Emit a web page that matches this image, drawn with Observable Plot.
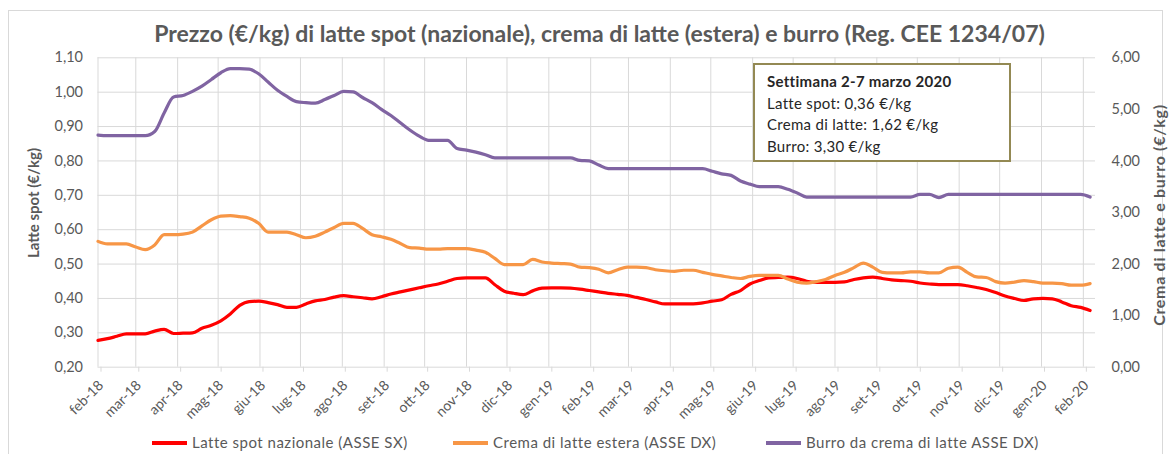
<!DOCTYPE html>
<html><head><meta charset="utf-8">
<script src="https://cdn.jsdelivr.net/npm/d3@7"></script>
<script src="https://cdn.jsdelivr.net/npm/@observablehq/plot@0.6"></script>
<style>
body{margin:0;background:#fff;font-family:Lato,"Open Sans",sans-serif;}
#wrap{position:relative;width:1170px;height:454px;overflow:hidden;background:#fff;}
#border{position:absolute;left:8px;top:10px;width:1155px;height:470px;border:1px solid #d9d9d9;box-sizing:border-box;}
#chart{position:absolute;left:0;top:0;}
.title{position:absolute;left:0;width:1199px;top:19px;text-align:center;font-weight:bold;font-size:23px;color:#595959;white-space:nowrap;}
.ytitle{position:absolute;font-weight:bold;font-size:15px;color:#595959;white-space:nowrap;transform:translate(-50%,-50%) rotate(-90deg);}
#note{position:absolute;left:753px;top:63px;width:258px;height:99px;border:2px solid #938953;box-sizing:border-box;background:#fff;padding:6px 0 0 12px;font-size:15px;letter-spacing:0.3px;line-height:21.5px;color:#262626;}
#note b{font-weight:bold;}
.leg{position:absolute;top:433px;font-size:15px;letter-spacing:0.5px;color:#595959;white-space:nowrap;line-height:18px;}
.sw{position:absolute;top:441px;height:4px;width:35px;}
</style></head>
<body>
<div id="wrap">
<div id="border"></div>
<div id="chart"></div>
</div>
<script>
// ---- data (weekly, first week 1 Feb 2018) ----
const latteSpot = [0.278,0.283,0.290,0.297,0.297,0.297,0.305,0.310,0.298,0.299,
0.300,0.313,0.322,0.335,0.355,0.380,0.391,0.392,0.388,0.382,
0.374,0.374,0.384,0.393,0.397,0.404,0.408,0.405,0.402,0.399,
0.405,0.413,0.419,0.425,0.431,0.437,0.442,0.450,0.458,0.460,
0.460,0.460,0.440,0.421,0.415,0.411,0.422,0.430,0.431,0.431,
0.430,0.427,0.423,0.419,0.415,0.412,0.409,0.403,0.397,0.390,
0.384,0.384,0.384,0.384,0.387,0.392,0.396,0.412,0.423,0.442,
0.452,0.460,0.461,0.462,0.458,0.450,0.447,0.447,0.447,0.448,
0.455,0.460,0.462,0.458,0.454,0.452,0.450,0.445,0.442,0.440,
0.440,0.440,0.437,0.432,0.426,0.417,0.407,0.400,0.394,0.399,
0.400,0.399,0.390,0.379,0.374,0.365];
const cremaLatte = [2.44,2.39,2.39,2.39,2.33,2.28,2.37,2.57,2.57,2.58,
2.62,2.74,2.86,2.93,2.94,2.92,2.89,2.79,2.62,2.62,
2.62,2.57,2.51,2.54,2.62,2.71,2.79,2.79,2.69,2.57,
2.53,2.48,2.40,2.32,2.31,2.29,2.29,2.30,2.30,2.30,
2.27,2.23,2.11,1.99,1.99,1.99,2.09,2.04,2.02,2.01,
2.00,1.94,1.93,1.90,1.83,1.89,1.94,1.94,1.93,1.89,
1.87,1.86,1.88,1.88,1.84,1.80,1.77,1.74,1.72,1.76,
1.78,1.78,1.78,1.71,1.65,1.63,1.66,1.70,1.78,1.84,
1.93,2.02,1.94,1.84,1.83,1.83,1.85,1.85,1.83,1.83,
1.92,1.94,1.84,1.75,1.74,1.66,1.63,1.65,1.68,1.66,
1.63,1.63,1.62,1.59,1.59,1.62];
const burro = [4.50,4.49,4.49,4.49,4.49,4.49,4.57,4.93,5.24,5.27,
5.35,5.45,5.58,5.71,5.79,5.79,5.78,5.69,5.53,5.37,
5.25,5.15,5.13,5.12,5.19,5.27,5.35,5.34,5.23,5.13,
5.00,4.88,4.74,4.60,4.48,4.40,4.40,4.40,4.24,4.21,
4.17,4.12,4.06,4.06,4.06,4.06,4.06,4.06,4.06,4.06,
4.06,4.01,4.00,3.92,3.85,3.85,3.85,3.85,3.85,3.85,
3.85,3.85,3.85,3.85,3.85,3.80,3.75,3.72,3.61,3.55,
3.50,3.50,3.50,3.45,3.38,3.30,3.30,3.30,3.30,3.30,
3.30,3.30,3.30,3.30,3.30,3.30,3.30,3.35,3.35,3.29,
3.35,3.35,3.35,3.35,3.35,3.35,3.35,3.35,3.35,3.35,
3.35,3.35,3.35,3.35,3.35,3.30];
const xTickLabels = ["feb-18","mar-18","apr-18","mag-18","giu-18","lug-18","ago-18","set-18","ott-18","nov-18","dic-18","gen-19",
"feb-19","mar-19","apr-19","mag-19","giu-19","lug-19","ago-19","set-19","ott-19","nov-19","dic-19","gen-20","feb-20"];
const leftTicks = [0.2,0.3,0.4,0.5,0.6,0.7,0.8,0.9,1.0,1.1];
const rightTicks = [0,1,2,3,4,5,6];
const seriesNames = ["Latte spot nazionale (ASSE SX)","Crema di latte estera (ASSE DX)","Burro da crema di latte ASSE DX)"];
const seriesColors = ["#ff0000","#f79646","#8064a2"];
const titleText = "Prezzo (€/kg) di latte spot (nazionale), crema di latte (estera) e burro (Reg. CEE 1234/07)";
const noteLines = ["Settimana 2-7 marzo 2020","Latte spot: 0,36 €/kg","Crema di latte: 1,62 €/kg","Burro: 3,30 €/kg"];

// ---- build ----
const t0 = Date.UTC(2018,1,1);
const dates = latteSpot.map((_, i) => new Date(Date.UTC(2018,1,1 + 7*i)));
const monthTicks = xTickLabels.map((_, i) => new Date(Date.UTC(2018,1+i,1)));
const labelOf = new Map(monthTicks.map((d,i)=>[+d, xTickLabels[i]]));
const toLeft = v => 0.2 + v * 0.15; // right axis 0..6 mapped onto left 0.2..1.1
const rows = [];
dates.forEach((d,i)=>{
  rows.push({date:d, y:latteSpot[i], s:0});
  rows.push({date:d, y:toLeft(cremaLatte[i]), s:1});
  rows.push({date:d, y:toLeft(burro[i]), s:2});
});
const fmt = v => v.toFixed(2).replace(".", ",");

const plot = Plot.plot({
  width: 1170, height: 454,
  marginLeft: 97.5, marginRight: 75, marginTop: 57.3, marginBottom: 87.3,
  style: {fontFamily: "Lato, 'Open Sans', sans-serif", background: "transparent", overflow: "visible"},
  x: {type: "utc", domain: [new Date(t0), new Date(Date.UTC(2018,1,1+739))]},
  y: {domain: [0.2, 1.1]},
  marks: [
    Plot.gridY(leftTicks, {stroke: "#d9d9d9", strokeOpacity: 1, strokeWidth: 1}),
    Plot.gridX(monthTicks, {stroke: "#d9d9d9", strokeOpacity: 1, strokeWidth: 1}),
    Plot.axisX(monthTicks, {tickSize: 5, stroke: "#d9d9d9", fill: "#595959", fontSize: 14, tickRotate: -45,
      tickPadding: 11, dx: 3, tickFormat: d => labelOf.get(+d), label: null}),
    Plot.axisY(leftTicks, {tickSize: 0, tickPadding: 15, fill: "#595959", fontSize: 14.5, tickFormat: fmt, label: null}),
    Plot.text(rightTicks, {y: d => toLeft(d), text: d => fmt(d), frameAnchor: "right", textAnchor: "start", dx: 16, fill: "#595959", fontSize: 14.5}),
    Plot.line(rows.filter(r=>r.s===0), {x: "date", y: "y", stroke: seriesColors[0], strokeWidth: 3.2, curve: "monotone-x"}),
    Plot.line(rows.filter(r=>r.s===1), {x: "date", y: "y", stroke: seriesColors[1], strokeWidth: 3.2, curve: "monotone-x"}),
    Plot.line(rows.filter(r=>r.s===2), {x: "date", y: "y", stroke: seriesColors[2], strokeWidth: 3.2, curve: "monotone-x"})
  ]
});
document.getElementById("chart").appendChild(plot);

const wrap = document.getElementById("wrap");
function add(html, cls, style){ const e=document.createElement("div"); e.className=cls; e.innerHTML=html; Object.assign(e.style, style||{}); wrap.appendChild(e); return e; }
add(titleText, "title");
add("Latte spot (€/kg)", "ytitle", {left:"33px", top:"203px"});
add("Crema di latte e burro (€/kg)", "ytitle", {left:"1158px", top:"215px", fontSize:"16px", letterSpacing:"0.7px"});
const note = add("<b>"+noteLines[0]+"</b><br>"+noteLines.slice(1).join("<br>"), "", {});
note.id = "note";
const swX = [152, 453, 766];
seriesNames.forEach((n,i)=>{
  add("", "sw", {left: swX[i]+"px", background: seriesColors[i]});
  add(n, "leg", {left: (swX[i]+40)+"px"});
});
</script>
</body></html>
